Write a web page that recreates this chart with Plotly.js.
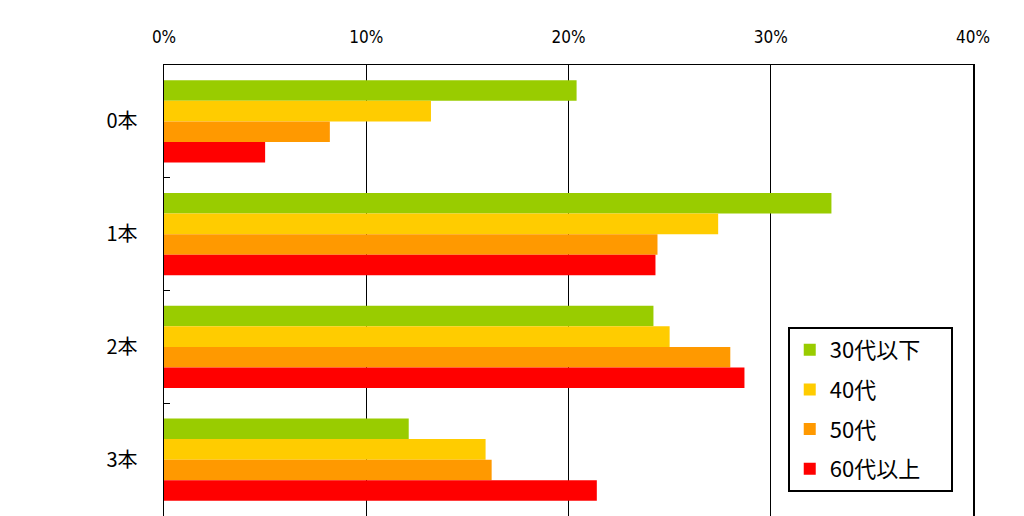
<!DOCTYPE html>
<html>
<head>
<meta charset="utf-8">
<script src="https://cdn.plot.ly/plotly-3.0.1.min.js"></script>
<style>
html,body{margin:0;padding:0;background:#fff;overflow:hidden;}
#chart{width:1024px;height:516px;}
</style>
</head>
<body>
<div id="chart"></div>
<script>
const categories = ["0本", "1本", "2本", "3本"];
const seriesNames = ["30代以下", "40代", "50代", "60代以上"];
const age30 = [20.4, 33.0, 24.2, 12.1];
const age40 = [13.2, 27.4, 25.0, 15.9];
const age50 = [8.2, 24.4, 28.0, 16.2];
const age60 = [5.0, 24.3, 28.7, 21.4];
const xTickVals = [0, 10, 20, 30, 40];
const xTickText = ["0%", "10%", "20%", "30%", "40%"];
const colors = ["#99CC00", "#FFCC00", "#FF9900", "#FF0000"];

const values = [age30, age40, age50, age60];
const pad = "\u00A0\u00A0\u00A0\u00A0\u00A0";
const traces = values.map((v, i) => ({
  type: "bar",
  orientation: "h",
  name: seriesNames[i] + pad,
  legendgroup: "g" + i,
  x: v,
  y: categories,
  marker: {color: colors[i], line: {width: 0}},
  hoverinfo: "x+y+name"
}));

const layout = {
  width: 1024,
  height: 516,
  margin: {l: 164, r: 51, t: 65, b: 0},
  paper_bgcolor: "#ffffff",
  plot_bgcolor: "#ffffff",
  barmode: "group",
  bargap: 0.27,
  bargroupgap: 0,
  font: {family: "'Noto Sans CJK JP', 'DejaVu Sans', sans-serif", color: "#000", size: 14},
  xaxis: {
    side: "top",
    range: [0, 40],
    tickvals: xTickVals,
    ticktext: xTickText,
    showgrid: true,
    gridcolor: "#000",
    gridwidth: 1,
    showline: true,
    linecolor: "#000",
    linewidth: 1.5,
    mirror: true,
    ticks: "",
    zeroline: false,
    tickfont: {size: 17, family: "'Liberation Sans Narrow', 'DejaVu Sans Condensed', 'Noto Sans CJK JP', sans-serif"},
    ticklabelstandoff: 14
  },
  yaxis: {
    type: "category",
    range: [3.5, -0.5],
    showline: true,
    linecolor: "#000",
    linewidth: 1.5,
    mirror: true,
    ticks: "inside",
    tickson: "boundaries",
    ticklen: 6,
    tickcolor: "#000",
    showgrid: false,
    zeroline: false,
    tickfont: {size: 20},
    ticklabelstandoff: 21
  },
  legend: {
    x: 0.771,
    y: 0.419,
    xanchor: "left",
    yanchor: "top",
    bgcolor: "#ffffff",
    bordercolor: "#000",
    borderwidth: 2,
    font: {size: 22},
    traceorder: "grouped",
    tracegroupgap: 8,
    itemwidth: 30
  },
  showlegend: true
};

Plotly.newPlot("chart", traces, layout, {displayModeBar: false, staticPlot: true});
</script>
</body>
</html>
